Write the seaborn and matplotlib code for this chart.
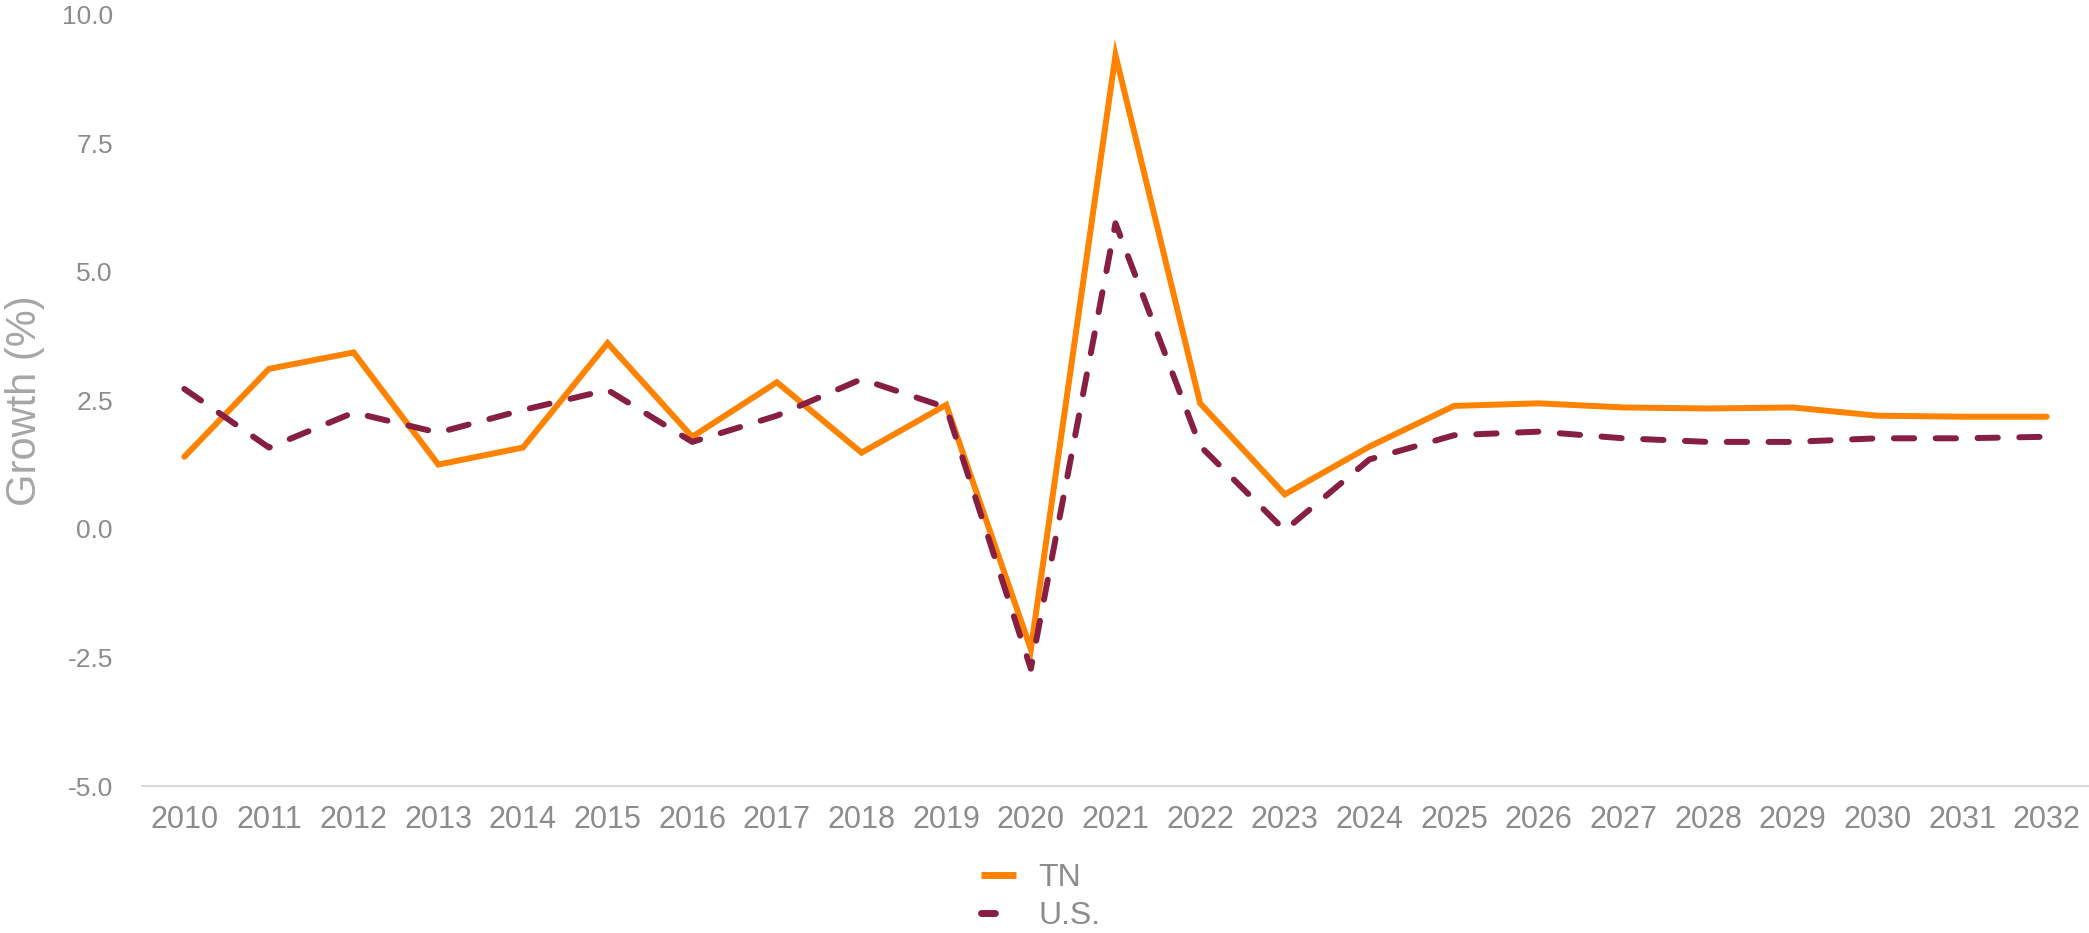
import matplotlib
matplotlib.use("Agg")
import matplotlib.pyplot as plt
from matplotlib.lines import Line2D
import seaborn as sns
import pandas as pd

years = list(range(2010, 2033))
tn = [1.40, 3.11, 3.43, 1.25, 1.58, 3.61, 1.79, 2.85, 1.48, 2.41, -2.34, 9.21,
      2.44, 0.67, 1.60, 2.39, 2.44, 2.36, 2.34, 2.36, 2.20, 2.18, 2.18]
us = [2.72, 1.58, 2.26, 1.87, 2.31, 2.70, 1.69, 2.20, 2.91, 2.36, -2.72, 5.94,
      1.61, -0.03, 1.35, 1.82, 1.89, 1.76, 1.69, 1.69, 1.76, 1.76, 1.79]
series_names = ["TN", "U.S."]
y_ticks = [-5.0, -2.5, 0.0, 2.5, 5.0, 7.5, 10.0]

df = pd.DataFrame({
    "Year": years * 2,
    "Growth": tn + us,
    "Series": [series_names[0]] * len(years) + [series_names[1]] * len(years),
})

sns.set_theme(style="white")
plt.rcParams["font.family"] = ["Liberation Sans", "DejaVu Sans"]

fig = plt.figure(figsize=(20.89, 9.33), dpi=100)
ax = fig.add_axes([142 / 2089, 1 - 786 / 933, 1 - 142 / 2089, (786 - 14.5) / 933])

palette = {"TN": "#FF8200", "U.S.": "#861F41"}
dashes = {"TN": "", "U.S.": (3.4, 3.6)}
sns.lineplot(data=df, x="Year", y="Growth", hue="Series", style="Series",
             palette=palette, dashes=dashes, linewidth=4.3, ax=ax, legend=False)
for line in ax.get_lines():
    line.set_dash_capstyle("round")
    line.set_solid_capstyle("round")
    line.set_solid_joinstyle("miter")

ax.set_xlim(2009.5, 2032.5)
ax.set_ylim(-5, 10)
ax.set_xticks(years)
ax.set_xticklabels([str(y) for y in years])
ax.set_yticks(y_ticks)
ax.set_yticklabels([f"{v:.1f}" for v in y_ticks])

for s in ["top", "right", "left"]:
    ax.spines[s].set_visible(False)
ax.spines["bottom"].set_color("#d9d9d9")
ax.spines["bottom"].set_linewidth(1.5)

ax.tick_params(axis="x", labelsize=22, colors="#8c8c8c", length=0, pad=14)
ax.tick_params(axis="y", labelsize=19, colors="#8c8c8c", length=0, pad=21)
ax.set_xlabel("")
ax.set_ylabel("Growth (%)", fontsize=30, color="#a6a6a6", labelpad=12)
ax.grid(False)

handles = [
    Line2D([], [], color=palette["TN"], lw=5, solid_capstyle="butt"),
    Line2D([], [], color=palette["U.S."], lw=5, dashes=(2.0, 50), dash_capstyle="round"),
]
leg = fig.legend(handles, series_names, loc="upper center", bbox_to_anchor=(0.498, 1 - 847 / 933),
                 frameon=False, fontsize=23, handlelength=1.1, handletextpad=0.7,
                 labelspacing=0.25, borderpad=0)
for t in leg.get_texts():
    t.set_color("#8c8c8c")

fig.savefig("out.png", dpi=100)
